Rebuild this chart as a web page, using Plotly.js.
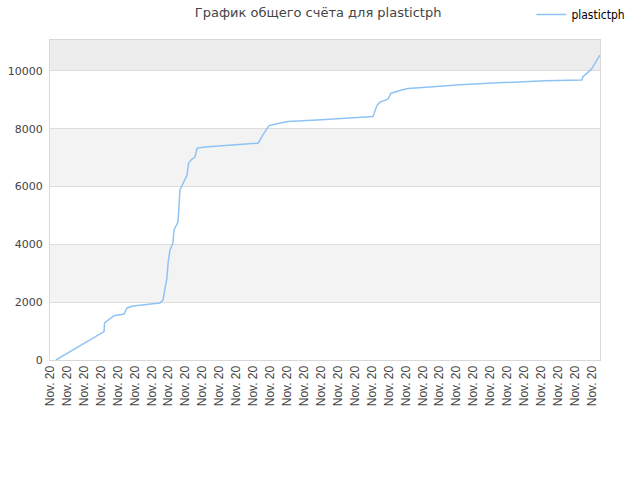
<!DOCTYPE html>
<html>
<head>
<meta charset="utf-8">
<script src="https://cdn.plot.ly/plotly-3.0.1.min.js"></script>
<style>
  body { margin: 0; }
  #chart { width: 640px; height: 480px; }
</style>
</head>
<body>
<div id="chart"></div>
<script>
// score over time, x = position between the date ticks
var xs = [0.35, 3.19, 3.22, 3.78, 4.37, 4.55, 4.90, 6.20, 6.49, 6.67, 6.79, 6.91, 6.97, 7.08,
  7.26, 7.32, 7.56, 7.62, 7.67, 7.85, 8.09, 8.18, 8.38, 8.56, 8.68, 9.15, 11.04, 12.28,
  12.57, 12.93, 13.40, 14.05, 15.76, 17.71, 19.07, 19.30, 19.48, 19.95, 20.13, 20.66,
  21.13, 22.43, 24.20, 26.15, 27.75, 29.22, 31.40, 31.46, 31.76, 32.00, 32.29, 32.47];
var scores = [0, 980, 1280, 1530, 1590, 1800, 1870, 1940, 1970, 2070, 2420, 2870, 3350, 3800,
  4050, 4500, 4780, 5360, 5880, 6100, 6400, 6810, 6950, 7020, 7330, 7370, 7440, 7500,
  7790, 8110, 8170, 8250, 8300, 8380, 8420, 8800, 8920, 9020, 9230, 9320,
  9390, 9440, 9520, 9580, 9630, 9660, 9690, 9800, 9950, 10090, 10380, 10550];

var tickPos = [];
var tickText = [];
for (var i = 0; i <= 32; i++) {
  tickPos.push(i);
  tickText.push('Nov. 20');
}
var yTicks = [0, 2000, 4000, 6000, 8000, 10000];
var yMax = 11070;

// alternating background bands
var bands = [
  {y0: 2000, y1: 4000, color: '#f3f3f3'},
  {y0: 6000, y1: 8000, color: '#f3f3f3'},
  {y0: 10000, y1: yMax, color: '#ededed'}
];
var shapes = bands.map(function(b) {
  return {
    type: 'rect', xref: 'paper', yref: 'y',
    x0: 0, x1: 1, y0: b.y0, y1: b.y1,
    fillcolor: b.color, line: {width: 0}, layer: 'below'
  };
});

var trace1 = {
  x: xs,
  y: scores,
  type: 'scatter',
  mode: 'lines',
  name: 'plastictph',
  line: {color: 'rgb(144,195,245)', width: 1.5}
};

var layout = {
  width: 640,
  height: 480,
  margin: {l: 50, r: 40, t: 40, b: 120, autoexpand: false},
  paper_bgcolor: 'white',
  plot_bgcolor: 'white',
  font: {family: 'DejaVu Sans, sans-serif', size: 11, color: '#444'},
  title: {
    text: 'График общего счёта для plastictph',
    font: {family: 'DejaVu Sans, sans-serif', size: 13, color: '#444'},
    x: 0.497, xanchor: 'center', y: 0.975, yanchor: 'middle'
  },
  showlegend: true,
  legend: {
    x: 0.985, xanchor: 'right', y: 1.0, yanchor: 'top',
    yref: 'container', xref: 'container',
    font: {family: 'DejaVu Sans Condensed, sans-serif', size: 12, color: '#000'},
    bgcolor: 'rgba(0,0,0,0)',
    itemwidth: 30
  },
  shapes: shapes,
  xaxis: {
    range: [0, 32.47],
    tickmode: 'array',
    tickvals: tickPos,
    ticktext: tickText,
    tickangle: -90,
    tickfont: {family: 'Liberation Sans, sans-serif', size: 12, color: '#444'},
    showgrid: false,
    zeroline: false,
    showline: true,
    linecolor: '#d8d8d8',
    mirror: true,
    ticks: ''
  },
  yaxis: {
    range: [0, yMax],
    tickmode: 'array',
    tickvals: yTicks,
    ticktext: yTicks.map(String),
    showgrid: true,
    gridcolor: '#dddddd',
    zeroline: false,
    showline: true,
    linecolor: '#d8d8d8',
    mirror: true,
    ticks: '',
    ticklabelstandoff: 4
  }
};

Plotly.newPlot('chart', [trace1], layout, {displayModeBar: false});
</script>
</body>
</html>
